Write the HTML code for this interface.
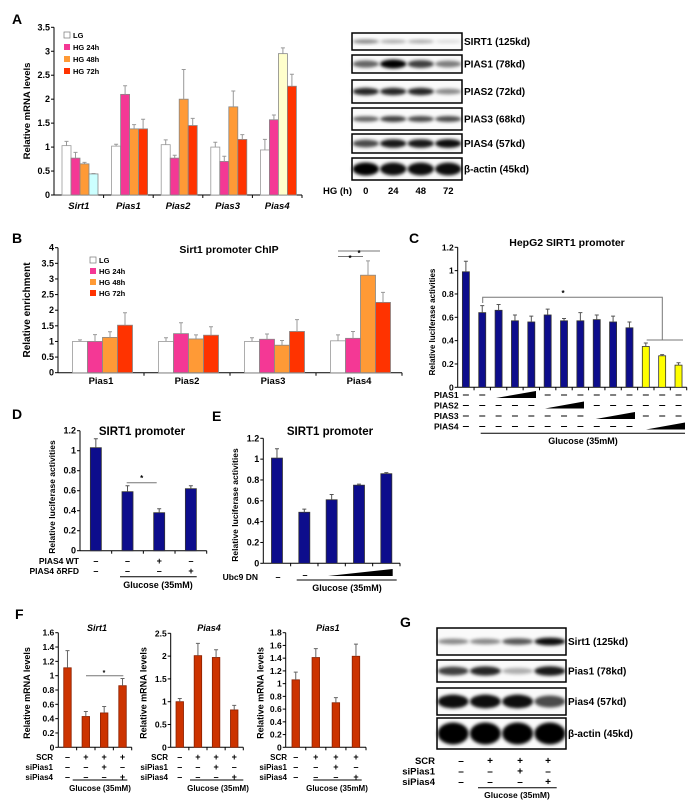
<!DOCTYPE html>
<html><head><meta charset="utf-8"><style>
html,body{margin:0;padding:0;background:#fff}
svg{display:block;font-family:"Liberation Sans",Arial,sans-serif;font-weight:bold}
</style></head><body>
<svg id="fig" width="700" height="807" viewBox="0 0 700 807" xmlns="http://www.w3.org/2000/svg">
<defs><filter id="blur" x="-20%" y="-50%" width="140%" height="200%"><feGaussianBlur stdDeviation="1.6"/></filter></defs>
<g font-size="14">
<text x="12" y="24">A</text>
<text x="12" y="243">B</text>
<text x="409" y="243">C</text>
<text x="12" y="419">D</text>
<text x="212" y="421">E</text>
<text x="15" y="619">F</text>
<text x="400" y="627">G</text>
</g>
</svg>
<script>
// ---- Panel A data ----
const aCategories = ["Sirt1","Pias1","Pias2","Pias3","Pias4"];
const aLG   = [1.03,1.02,1.05,1.00,0.94];
const aHG24 = [0.77,2.10,0.77,0.70,1.57];
const aHG48 = [0.65,1.38,2.00,1.84,2.95];
const aHG72 = [0.44,1.38,1.45,1.16,2.27];
const aErrLG   = [0.09,0.04,0.10,0.10,0.22];
const aErr24   = [0.12,0.18,0.06,0.11,0.10];
const aErr48   = [0.03,0.09,0.62,0.33,0.12];
const aErr72   = [0.01,0.20,0.15,0.10,0.25];
const aTicks = [0,0.5,1,1.5,2,2.5,3,3.5];
// ---- Panel B data ----
const bCategories = ["Pias1","Pias2","Pias3","Pias4"];
const bLG   = [1.00,1.00,1.00,1.02];
const bHG24 = [1.00,1.25,1.07,1.10];
const bHG48 = [1.13,1.08,0.88,3.12];
const bHG72 = [1.52,1.20,1.32,2.25];
const bErrLG = [0.05,0.12,0.12,0.19];
const bErr24 = [0.22,0.35,0.17,0.22];
const bErr48 = [0.18,0.13,0.15,0.46];
const bErr72 = [0.40,0.27,0.38,0.32];
const bTicks = [0,0.5,1,1.5,2,2.5,3,3.5,4];
// ---- Panel C data ----
const cValues = [0.99,0.64,0.66,0.57,0.56,0.62,0.57,0.57,0.58,0.56,0.51,0.35,0.27,0.19];
const cErrors = [0.09,0.06,0.05,0.05,0.05,0.05,0.02,0.07,0.04,0.05,0.05,0.03,0.01,0.02];
const cTicks = [0,0.2,0.4,0.6,0.8,1,1.2];
// ---- Panel D data ----
const dValues = [1.03,0.59,0.38,0.62];
const dErrors = [0.09,0.06,0.04,0.03];
const dTicks = [0,0.2,0.4,0.6,0.8,1,1.2];
// ---- Panel E data ----
const eValues = [1.01,0.49,0.61,0.75,0.86];
const eErrors = [0.09,0.03,0.05,0.01,0.01];
const eTicks = [0,0.2,0.4,0.6,0.8,1,1.2];
// ---- Panel F data ----
const f1Values = [1.11,0.43,0.48,0.86];
const f1Errors = [0.24,0.07,0.09,0.10];
const f1Ticks = [0,0.2,0.4,0.6,0.8,1,1.2,1.4,1.6];
const f2Values = [1.00,2.01,1.97,0.82];
const f2Errors = [0.07,0.27,0.17,0.10];
const f2Ticks = [0,0.5,1,1.5,2,2.5];
const f3Values = [1.06,1.41,0.70,1.43];
const f3Errors = [0.12,0.14,0.08,0.19];
const f3Ticks = [0,0.2,0.4,0.6,0.8,1,1.2,1.4,1.6,1.8];

const NS="http://www.w3.org/2000/svg";
const svg=document.getElementById('fig');
function mk(tag,attrs,parent){const e=document.createElementNS(NS,tag);for(const k in attrs)e.setAttribute(k,attrs[k]);(parent||svg).appendChild(e);return e;}
function txt(s,x,y,size,anchor,parent,extra){const t=mk('text',Object.assign({x:x,y:y,'font-size':size,'text-anchor':anchor||'start'},extra||{}),parent);t.textContent=s;return t;}
function fmt(v){return String(v);}

function axes(g,ax,ticks){
  const ys=v=>ax.y0-v/ax.yMax*(ax.y0-ax.yTop);
  const yl=mk('line',{x1:ax.x0,y1:ax.y0,x2:ax.x0,y2:ax.yTop,stroke:'#000','stroke-width':1},g);
  
  
  ticks.forEach(t=>{
    const tk=mk('line',{x1:ax.x0-3,y1:ys(t),x2:ax.x0,y2:ys(t),stroke:'#000'},g);
    
    
    const lb=txt(fmt(t),ax.x0-4,ys(t)+3,ax.tfs||9,'end',g);
    
    
  });
  const xl=mk('line',{x1:ax.x0,y1:ax.y0,x2:ax.x1,y2:ax.y0,stroke:'#000'},g);
  
  
  for(let i=1;i<=ax.n;i++){const x=ax.x0+(ax.x1-ax.x0)*i/ax.n;
    const tk=mk('line',{x1:x,y1:ax.y0,x2:x,y2:ax.y0+3,stroke:'#000'},g);
    
    }
  return ys;
}
function bar(g,x,w,v,e,ys,fill,stroke,ecol,name){
  const r=mk('rect',{x:x,y:ys(v),width:w,height:ys(0)-ys(v),fill:fill,stroke:stroke,'stroke-width':0.8},g);
  
  
  const cx=x+w/2;
  const el=mk('path',{d:`M${cx},${ys(v)}V${ys(v+e)}M${cx-2},${ys(v+e)}H${cx+2}`,stroke:ecol,'stroke-width':1,fill:'none'},g);
  
  
}
function grouped(name,ax,ticks,series,errs,colors,special,off,bw){
  const g=mk('g',{});
  
  
  const ys=axes(g,ax,ticks);
  const gw=(ax.x1-ax.x0)/ax.n;
  for(let c=0;c<ax.n;c++)for(let s=0;s<series.length;s++){
    const fill=(special[c+'-'+s])||colors[s];
    bar(g,ax.x0+c*gw+off+s*bw,bw,series[s][c],errs[s][c],ys,fill,s===0?'#999':'#888','#999','bar-'+c+'-'+s);
  }
  return g;
}
function simple(name,ax,ticks,vals,errs,bw,fillFn,stroke,ecol){
  const g=mk('g',{});
  
  
  const ys=axes(g,ax,ticks);
  const st=(ax.x1-ax.x0)/vals.length;
  vals.forEach((v,i)=>{const cx=ax.x0+st*(i+0.5);bar(g,cx-bw/2,bw,v,errs[i],ys,fillFn(i),stroke,ecol,'bar-'+i);});
  return g;
}
function ylabel(s,x,y,size,parent){const t=txt(s,x,y,size,'middle',parent,{transform:`rotate(-90 ${x} ${y})`});return t;}
function legend(x,y,step,labels,colors,parent){
  labels.forEach((l,i)=>{
    const r=mk('rect',{x:x,y:y+i*step-5,width:6,height:6,fill:colors[i],stroke:i===0?'#777':'none','stroke-width':0.7},parent);
    
    
    const t=txt(l,x+9,y+i*step+1,7.5,'start',parent);
    
    
  });
}
const hgColors=['#ffffff','#f43895','#ff9a36','#ff3300'];
const hgLabels=['LG','HG 24h','HG 48h','HG 72h'];

// Panel A chart
const gA=grouped('panel-a-chart',{x0:54,x1:302,y0:195,yTop:27.3,yMax:3.5,n:5},aTicks,[aLG,aHG24,aHG48,aHG72],[aErrLG,aErr24,aErr48,aErr72],hgColors,{'0-3':'#ccffff','4-2':'#ffffcc'},8,9);
legend(64,37,12,hgLabels,hgColors,gA);
ylabel('Relative mRNA levels',30,111,9.5,gA);
aCategories.forEach((c,i)=>{const t=txt(c,54+49.6*(i+0.5),209,9.5,'middle',gA,{'font-style':'italic'});});

// Panel B chart
const gB=grouped('panel-b-chart',{x0:58,x1:402,y0:372.7,yTop:247.7,yMax:4,n:4},bTicks,[bLG,bHG24,bHG48,bHG72],[bErrLG,bErr24,bErr48,bErr72],hgColors,{},14.5,15);
legend(90,262,11,hgLabels,hgColors,gB);
ylabel('Relative enrichment',30,310,10,gB);
txt('Sirt1 promoter ChIP',229,253,10.5,'middle',gB);
bCategories.forEach((c,i)=>{const t=txt(c,58+86*(i+0.5),384,9.5,'middle',gB);});
mk('path',{d:'M338,251H380M338,256.5H363',stroke:'#777',fill:'none'},gB);
txt('*',359,256,8,'middle',gB);
txt('*',350,261,8,'middle',gB);

// Panel C
const gC=simple('panel-c-chart',{x0:457.7,x1:686.7,y0:387.3,yTop:247.3,yMax:1.2,n:14,tfs:8.5},cTicks,cValues,cErrors,7,i=>i>=11?'#ffff00':'#0d0d8c','#333','#555');
txt('HepG2 SIRT1 promoter',567,246,10.5,'middle',gC);
ylabel('Relative luciferase activities',435,322,8,gC);
mk('path',{d:'M482.7,303V297.3H662.3V340M646.7,340H683',stroke:'#777',fill:'none'},gC);
txt('*',563,296,8,'middle',gC);
['PIAS1','PIAS2','PIAS3','PIAS4'].forEach((l,r)=>{
  const y=398+r*10.5;
  const t=txt(l,434,y,8.5,'start',gC);
  for(let i=0;i<14;i++){
    const inWedge=(r===0&&i>=2&&i<=4)||(r===1&&i>=5&&i<=7)||(r===2&&i>=8&&i<=10)||(r===3&&i>=11&&i<=13);
    if(!inWedge){const cx=457.7+16.36*(i+0.5);const d=mk('line',{x1:cx-3,y1:y-3,x2:cx+3,y2:y-3,stroke:'#000'},gC);}
  }
  const xs=[[496,536],[545,584],[595.7,635],[646,685]][r];
  const w=mk('polygon',{points:`${xs[0]},${y} ${xs[1]},${y} ${xs[1]},${y-7}`,fill:'#000'},gC);
  
  
});
mk('line',{x1:480.7,y1:433.3,x2:685,y2:433.3,stroke:'#000'},gC);
txt('Glucose (35mM)',583,444,9,'middle',gC);

// Panel D
const gD=simple('panel-d-chart',{x0:80,x1:206.7,y0:550.7,yTop:430.7,yMax:1.2,n:4},dTicks,dValues,dErrors,11,i=>'#0d0d8c','#333','#555');
txt('SIRT1 promoter',142,435,11.5,'middle',gD);
ylabel('Relative luciferase activities',55,497,8.5,gD);
mk('line',{x1:126.7,y1:482.7,x2:156.7,y2:482.7,stroke:'#777'},gD);
txt('*',141.7,481,8,'middle',gD);
txt('PIAS4 WT',79,564,8.5,'end',gD);
txt('PIAS4 δRFD',79,574,8.5,'end',gD);
[['–','–','+','–'],['–','–','–','+']].forEach((row,r)=>row.forEach((s,i)=>{const t=txt(s,80+31.7*(i+0.5),564+r*10,9,'middle',gD);}));
mk('line',{x1:120,y1:576.7,x2:196.7,y2:576.7,stroke:'#000'},gD);
txt('Glucose (35mM)',158,588,9,'middle',gD);

// Panel E
const gE=simple('panel-e-chart',{x0:263.3,x1:400,y0:563.3,yTop:438.3,yMax:1.2,n:5},eTicks,eValues,eErrors,11,i=>'#0d0d8c','#333','#555');
txt('SIRT1 promoter',330,435,11.5,'middle',gE);
ylabel('Relative luciferase activities',238,505,8.5,gE);
txt('Ubc9 DN',258,580,8.5,'end',gE);
txt('–',278,580,9,'middle',gE);
txt('–',305,578,9,'middle',gE);
mk('polygon',{points:'328,576 392.7,576 392.7,569',fill:'#000'},gE);
mk('line',{x1:296.7,y1:580,x2:396.7,y2:580,stroke:'#000'},gE);
txt('Glucose (35mM)',347,591,9,'middle',gE);

// Panel F
const fRed='#cc3300';
const fSym=[['–','+','+','+'],['–','–','+','–'],['–','–','–','+']];
function fPanel(name,ax,ticks,vals,errs,title,lblX,ylx,ulx0,ulx1,gcx){
  const g=simple(name,ax,ticks,vals,errs,7.5,i=>fRed,'#8a2000','#666');
  const t=txt(title,(ax.x0+ax.x1)/2+2,631,9,'middle',g,{'font-style':'italic'});
  ylabel('Relative mRNA levels',ylx,693,9,g);
  ['SCR','siPias1','siPias4'].forEach((l,r)=>{const tt=txt(l,lblX,760+r*10,8,'end',g);});
  const st=(ax.x1-ax.x0)/4;
  fSym.forEach((row,r)=>row.forEach((s,i)=>{const tt=txt(s,ax.x0+st*(i+0.5),760+r*10,9,'middle',g);}));
  mk('line',{x1:ulx0,y1:780,x2:ulx1,y2:780,stroke:'#000'},g);
  txt('Glucose (35mM)',gcx,791,8,'middle',g);
  return g;
}
const gF1=fPanel('panel-f-sirt1-chart',{x0:58.3,x1:131.7,y0:747.3,yTop:632.7,yMax:1.6,n:4,tfs:8.5},f1Ticks,f1Values,f1Errors,'Sirt1',53,30,72.7,127.3,100);
mk('line',{x1:86,y1:675.7,x2:123.3,y2:675.7,stroke:'#777'},gF1);
txt('*',104,675,7,'middle',gF1);
fPanel('panel-f-pias4-chart',{x0:170.7,x1:243.3,y0:747.3,yTop:633.3,yMax:2.5,n:4,tfs:8.5},f2Ticks,f2Values,f2Errors,'Pias4',168,146.7,190,243.3,218);
fPanel('panel-f-pias1-chart',{x0:285.7,x1:366,y0:747.3,yTop:632.7,yMax:1.8,n:4,tfs:8.5},f3Ticks,f3Values,f3Errors,'Pias1',287,263.3,313.3,361.7,337);

// Blots
function blot(name,x,y,w,h,ints,bh,label,parent){
  const g=mk('g',{},parent);
  
  
  const bg=mk('rect',{x:x,y:y,width:w,height:h,fill:'#fafafa',stroke:'#000','stroke-width':1.5},g);
  
  ints.forEach((v,i)=>{const cx=x+w*(i+0.5)/ints.length;
    const e=mk('ellipse',{cx:cx,cy:y+h/2,rx:w/ints.length*0.48,ry:bh*(0.5+v*0.5)/2,fill:'#000','fill-opacity':v,filter:'url(#blur)'},g);
    
    });
  const t=txt(label,x+w+2,y+h/2+3.5,10,'start',g);
  
  
}
const gAb=mk('g',{});


blot('blot-sirt1',352,33,110,17,[0.45,0.3,0.3,0.12],6,'SIRT1 (125kd)',gAb);
blot('blot-pias1',352,55,110,18,[0.6,1,0.75,0.5],9,'PIAS1 (78kd)',gAb);
blot('blot-pias2',352,80,110,23,[0.85,0.85,0.85,0.45],8,'PIAS2 (72kd)',gAb);
blot('blot-pias3',352,108,110,22,[0.6,0.75,0.7,0.7],7,'PIAS3 (68kd)',gAb);
blot('blot-pias4',352,134,110,19,[0.7,0.9,0.9,0.95],9,'PIAS4 (57kd)',gAb);
blot('blot-actin',352,158,110,22,[1,0.95,0.95,0.95],13,'β-actin (45kd)',gAb);
txt('HG (h)',323,194,9.5,'start',gAb);
['0','24','48','72'].forEach((s,i)=>{const t=txt(s,352+110*(i+0.5)/4,194,9.5,'middle',gAb);});

const gG=mk('g',{});


blot('blot-g-sirt1',437,628,129,27,[0.45,0.45,0.65,0.95],8,'Sirt1 (125kd)',gG);
blot('blot-g-pias1',437,660,129,22,[0.75,0.85,0.3,0.9],10,'Pias1 (78kd)',gG);
blot('blot-g-pias4',437,688,129,27,[0.95,0.95,0.95,0.7],14,'Pias4 (57kd)',gG);
blot('blot-g-actin',437,718,129,31,[1,1,1,1],22,'β-actin (45kd)',gG);
['SCR','siPias1','siPias4'].forEach((l,r)=>{const t=txt(l,435,764+r*10.5,9.5,'end',gG);});
fSym.forEach((row,r)=>row.forEach((s,i)=>{const t=txt(s,[461,490,520,548][i],764+r*10.5,10,'middle',gG);}));
mk('line',{x1:478,y1:787.7,x2:556.7,y2:787.7,stroke:'#000'},gG);
txt('Glucose (35mM)',517,798,8.5,'middle',gG);
</script>
</body></html>
